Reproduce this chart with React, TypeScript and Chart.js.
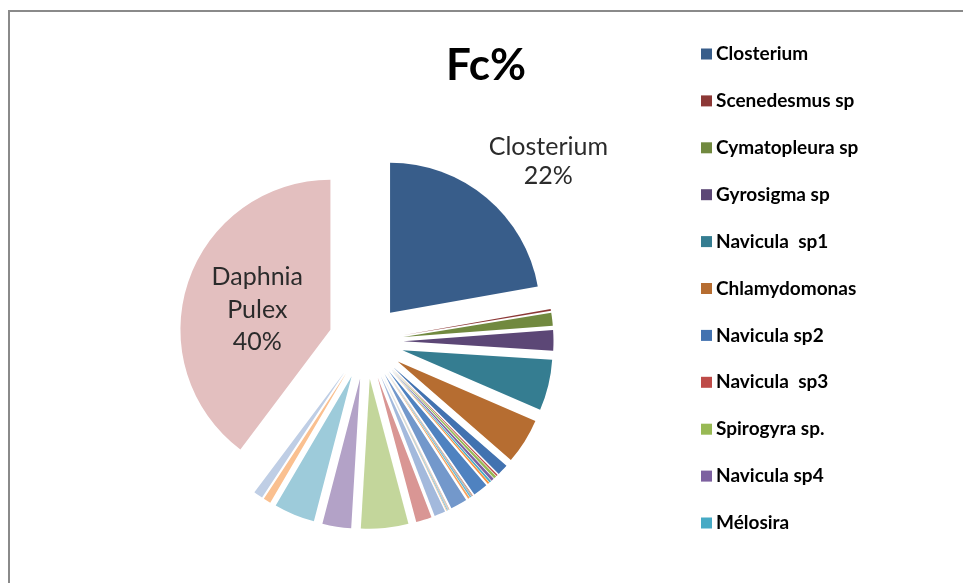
import React, { useEffect, useRef } from "react";
import { Chart, registerables } from "chart.js";

Chart.register(...registerables);

const TITLE = "Fc%";

const categories = [
  "Closterium", "Scenedesmus sp", "Cymatopleura sp", "Gyrosigma sp", "Navicula  sp1", "Chlamydomonas",
  "Navicula sp2", "Navicula  sp3", "Spirogyra sp.", "Navicula sp4", "Mélosira", "Taxon 12",
  "Taxon 13", "Taxon 14", "Taxon 15", "Taxon 16", "Taxon 17", "Taxon 18",
  "Taxon 19", "Taxon 20", "Taxon 21", "Taxon 22", "Taxon 23", "Taxon 24",
  "Taxon 25", "Taxon 26", "Taxon 27", "Taxon 28", "Taxon 29", "Taxon 30",
  "Taxon 31", "Daphnia Pulex",
];

const values = [
  22.2, 0.2, 1.4, 2.2, 5.5, 4.9,
  1.2, 0.15, 0.3, 0.3, 0.2, 0.2,
  1.6, 0.05, 0.05, 0.05, 0.15, 0.2,
  1.8, 0.05, 0.05, 0.05, 0.1, 0.05,
  1.2, 1.7, 5.1, 3.1, 4.4, 0.8,
  1.0, 39.75,
];

const colors = [
  "#385D8A", "#8C3836", "#71893F", "#5C4776", "#357D91", "#B66D31",
  "#4272B0", "#BE4B48", "#98B954", "#7D60A0", "#46AAC5", "#F69240",
  "#4F82C0", "#C8615E", "#A6C36C", "#8C72AC", "#5CB6CE", "#F7A25F",
  "#7398CB", "#D07E7C", "#B4CC83", "#9F89BA", "#78C2D6", "#F9B27A",
  "#A3B9DC", "#D99694", "#C3D69B", "#B3A2C7", "#9DCBDA", "#FAC090",
  "#BFCEE5", "#E3BFBF",
];

const LEGEND_COUNT = 11;
const EXPLODE = 37.5;
const FONT = "Lato, 'Noto Sans', sans-serif";

const explodePlugin = {
  id: "explode",
  beforeDatasetsDraw(chart: any) {
    const meta = chart.getDatasetMeta(0);
    meta.data.forEach((arc: any) => {
      const mid = (arc.startAngle + arc.endAngle) / 2;
      arc._ox = arc.x;
      arc._oy = arc.y;
      arc.x = arc._ox + Math.cos(mid) * EXPLODE;
      arc.y = arc._oy + Math.sin(mid) * EXPLODE;
    });
  },
  afterDatasetsDraw(chart: any) {
    const ctx = chart.ctx;
    const meta = chart.getDatasetMeta(0);
    const total = values.reduce((a, b) => a + b, 0);
    ctx.save();
    ctx.fillStyle = "#2b2b2b";
    ctx.font = `25px ${FONT}`;
    ctx.textAlign = "center";
    ctx.textBaseline = "middle";
    // Closterium label (outside)
    {
      const i = 0;
      const arc: any = meta.data[i];
      const mid = (arc.startAngle + arc.endAngle) / 2;
      const r = arc.outerRadius + 70;
      const x = arc.x + Math.cos(mid) * r + 17;
      const y = arc.y + Math.sin(mid) * r + 17;
      const pct = Math.round((values[i] / total) * 100) + "%";
      ctx.fillText(categories[i], x, y - 14.5);
      ctx.fillText(pct, x, y + 14.5);
    }
    // Daphnia label (inside)
    {
      const i = values.length - 1;
      const arc: any = meta.data[i];
      const mid = (arc.startAngle + arc.endAngle) / 2;
      const r = arc.outerRadius / 2;
      const x = arc.x + Math.cos(mid) * r - 2;
      const y = arc.y + Math.sin(mid) * r + 4;
      const pct = Math.round((values[i] / total) * 100) + "%";
      const lines = [...categories[i].split(" "), pct];
      lines.forEach((t, k) => ctx.fillText(t, x, y + (k - 1) * 32.5));
    }
    ctx.restore();
    meta.data.forEach((arc: any) => {
      arc.x = arc._ox;
      arc.y = arc._oy;
    });
  },
  afterDraw(chart: any) {
    const ctx = chart.ctx;
    ctx.save();
    // title
    ctx.fillStyle = "#000";
    ctx.font = `bold 44px ${FONT}`;
    ctx.textAlign = "center";
    ctx.textBaseline = "alphabetic";
    ctx.fillText(TITLE, 486, 80);
    // legend
    ctx.font = `bold 19px ${FONT}`;
    ctx.textAlign = "left";
    ctx.textBaseline = "middle";
    for (let i = 0; i < LEGEND_COUNT; i++) {
      const cy = 54 + i * 46.9;
      ctx.fillStyle = colors[i];
      ctx.fillRect(701, cy - 5.5, 11, 11);
      ctx.fillStyle = "#000";
      ctx.fillText(categories[i], 716, cy);
    }
    ctx.restore();
  },
};

export default function App() {
  const ref = useRef<HTMLCanvasElement | null>(null);
  useEffect(() => {
    if (!ref.current) return;
    const chart = new Chart(ref.current, {
      type: "pie",
      data: {
        labels: categories,
        datasets: [
          {
            data: values,
            backgroundColor: colors,
            borderWidth: 0,
          },
        ],
      },
      options: {
        responsive: false,
        animation: false,
        radius: 150,
        layout: { padding: { left: 0, right: 231, top: 100, bottom: 0 } },
        plugins: {
          legend: { display: false },
          title: { display: false },
          tooltip: { enabled: false },
        },
      },
      plugins: [explodePlugin],
    });
    return () => chart.destroy();
  }, []);
  return (
    <div
      style={{
        position: "fixed",
        left: 0,
        top: 0,
        width: 963,
        height: 583,
        background: "#fff",
        overflow: "hidden",
      }}
    >
      <div
        style={{
          position: "absolute",
          left: 8,
          top: 10,
          width: 2000,
          height: 2000,
          borderLeft: "2px solid #8a8a8a",
          borderTop: "2px solid #8a8a8a",
        }}
      />
      <canvas ref={ref} width={963} height={583} style={{ position: "absolute", left: 0, top: 0 }} />
    </div>
  );
}
